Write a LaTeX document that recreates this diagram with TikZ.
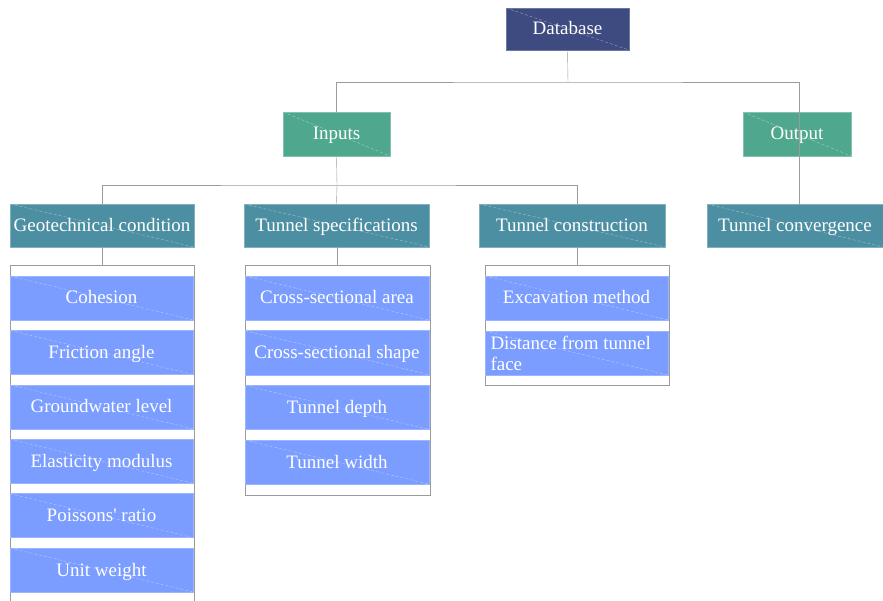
\documentclass[tikz,border=0pt]{standalone}
\usepackage{fontspec}
\setmainfont{Liberation Serif}
\definecolor{dbblue}{RGB}{61,75,128}
\definecolor{iogreen}{RGB}{79,168,142}
\definecolor{catteal}{RGB}{77,143,162}
\definecolor{leafblue}{RGB}{123,157,255}
\definecolor{linkgray}{RGB}{155,155,155}
\begin{document}
\begin{tikzpicture}%
	[x=1pt, y=-1pt,
	box/.style={rectangle, inner sep=0pt, minimum height=44pt, text=white,
		text height=14pt, text depth=2pt,
		font=\fontsize{19}{21}\selectfont,
		path picture={\draw[white, opacity=.45, thin, dash pattern=on 3pt off 2pt]
			(path picture bounding box.north west) -- (path picture bounding box.south east);}},
	rootbox/.style={box, fill=dbblue, draw=dbblue!75!white, minimum width=123pt, minimum height=42pt},
	iobox/.style={box, fill=iogreen, draw=iogreen!70!white, minimum width=107pt},
	catbox/.style={box, fill=catteal, draw=catteal!70!white, minimum height=43pt},
	leaf/.style={box, fill=leafblue, draw=leafblue!75!white, minimum width=183pt},
	listbox/.style={rectangle, draw=linkgray, thin, inner sep=0pt, minimum width=184pt},
	link/.style={draw=linkgray, thin}]
%
\useasboundingbox (0,0) rectangle (883,601);
%%
%% Drawing the lists
%%
\node[listbox, minimum height=345pt] (geolist) at (102,437.5) {};
\node[listbox, minimum height=230pt, minimum width=185pt] (speclist) at (337.5,380) {};
\node[listbox, minimum height=120pt] (constrlist) at (577,325) {};
%%
%% Drawing the boxes
%%
\node[rootbox] (db) at (567.5,29) {Database};
\node[iobox] (inputs) at (336.5,134) {Inputs};
\node[iobox, minimum width=108pt] (output) at (797,134) {Output};
\node[catbox, minimum width=184pt] (geo) at (102,225.5) {Geotechnical condition};
\node[catbox, minimum width=185pt] (spec) at (336.5,225.5) {Tunnel specifications};
\node[catbox, minimum width=186pt] (constr) at (572,225.5) {Tunnel construction};
\node[catbox, minimum width=176pt] (conv) at (795,225.5) {Tunnel convergence};
%%
\foreach \name/\lbl [count=\i] in {coh/Cohesion, fric/Friction angle,
	gw/Groundwater level, elast/Elasticity modulus, poiss/Poissons\textquotesingle{} ratio,
	unit/Unit weight}
	\node[leaf] (\name) at (101.5,{298+54.4*(\i-1)}) {\lbl};
\foreach \name/\lbl [count=\i] in {area/Cross-sectional area, shape/Cross-sectional shape,
	depth/Tunnel depth, width/Tunnel width}
	\node[leaf, minimum width=184pt] (\name) at (337,{298+54.7*(\i-1)}) {\lbl};
\node[leaf] (exc) at (576.5,298) {Excavation method};
\node[leaf, text width=172pt, align=flush left, inner xsep=5.5pt, text height=, text depth=]
	(dist) at (576.5,353) {Distance from tunnel face};
%%
%% Drawing the links
%%
\coordinate (topbus) at (568,82);
\coordinate (midbus) at (337,185);
\draw[link] (db.south) -- (topbus);
\draw[link] (inputs.north) |- (topbus) -| (output.south -| 799,0 |- output.north);
\draw[link] (inputs.south) -- (midbus);
\draw[link] (geo.north) |- (midbus) -| (constrlist.north |- constr.north);
\draw[link] (midbus) -- (spec.north);
\draw[link] (output.south -| 799,0) -- (799,0 |- conv.north);
\draw[link] (geo.south) -- (geolist.north);
\draw[link] (spec.south -| speclist.north) -- (speclist.north);
\draw[link] (constrlist.north |- constr.south) -- (constrlist.north);
\end{tikzpicture}
\end{document}
